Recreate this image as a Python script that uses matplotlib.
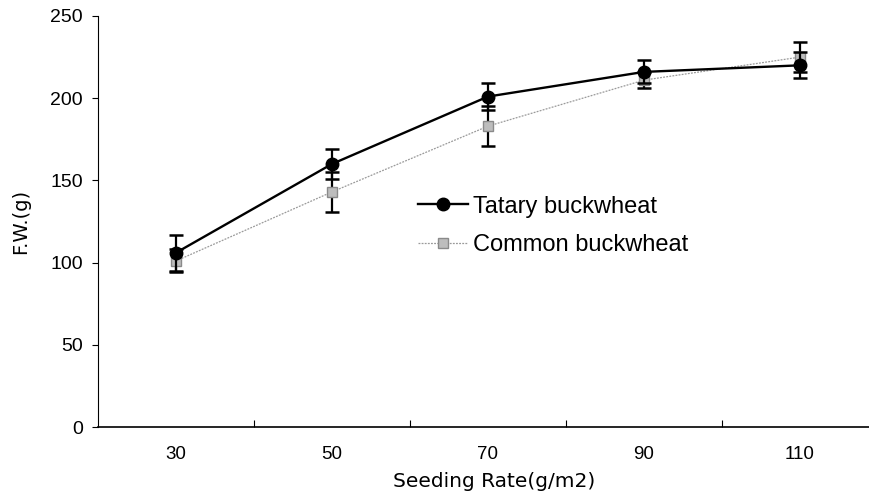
import matplotlib.pyplot as plt
from matplotlib.lines import Line2D
import numpy as np

plt.rcParams['font.family'] = ['Liberation Sans', 'DejaVu Sans']

# datos
tasas = ['30', '50', '70', '90', '110']
tatary = [106, 160, 201, 216, 220]
tatary_err = [11, 9, 8, 7, 8]
common = [101, 143, 183, 211, 225]
common_err = [7, 12, 12, 5, 9]

x = np.arange(len(tasas))

fig = plt.figure(figsize=(8.69, 5.03), dpi=100)
ax = fig.add_axes([98 / 869, 1 - 427 / 503, 780 / 869, 411 / 503])

estilo_common = dict(color='#9a9a9a', lw=0.9, ls=(0, (1.5, 1)), marker='s', ms=7.5,
                     mfc='#bdbdbd', mec='#8a8a8a')
estilo_tatary = dict(color='black', lw=1.7, marker='o', ms=9, mfc='black', mec='black')

ax.errorbar(x, common, yerr=common_err, ecolor='black', elinewidth=1.6,
            capsize=5, capthick=1.8, zorder=2, **estilo_common)
ax.errorbar(x, tatary, yerr=tatary_err, ecolor='black', elinewidth=1.6,
            capsize=5, capthick=1.8, zorder=3, **estilo_tatary)

ax.set_xlim(-0.5, 4.5)
ax.set_ylim(0, 250)
ax.set_yticks([0, 50, 100, 150, 200, 250])
ax.set_xticks(x)
ax.set_xticklabels(tasas)
ax.set_xticks(np.arange(0.5, 4, 1), minor=True)
ax.tick_params(axis='x', which='major', length=0, pad=14, labelsize=13.5)
ax.tick_params(axis='x', which='minor', direction='in', length=5, width=0.8)
ax.tick_params(axis='y', direction='out', length=4, width=0.8, pad=7, labelsize=14)

for lado in ['top', 'right']:
    ax.spines[lado].set_visible(False)
ax.spines['left'].set_linewidth(0.8)
ax.spines['bottom'].set_linewidth(1.2)

ax.set_xlabel('Seeding Rate(g/m2)', fontsize=14.5, family=['DejaVu Sans'])
ax.xaxis.set_label_coords(0.508, -0.11)
ax.set_ylabel('F.W.(g)', fontsize=14, family=['DejaVu Sans'])
ax.yaxis.set_label_coords(-0.087, 0.5)

handles = [Line2D([], [], **estilo_tatary), Line2D([], [], **estilo_common)]
fig.legend(handles, ['Tatary buckwheat', 'Common buckwheat'], loc='center left',
           bbox_to_anchor=(418 / 869, 1 - 226 / 503), bbox_transform=fig.transFigure,
           frameon=False, fontsize=17, handlelength=2.1, handletextpad=0.25,
           labelspacing=0.7, borderpad=0, borderaxespad=0)

plt.savefig('out.png', dpi=100)
